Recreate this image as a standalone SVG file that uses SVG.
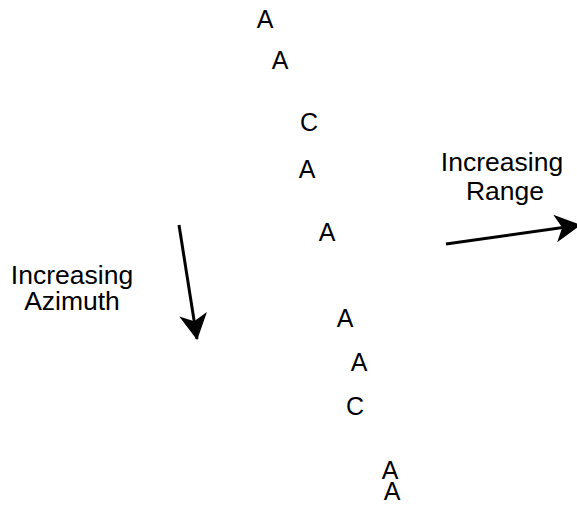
<svg xmlns="http://www.w3.org/2000/svg" width="577" height="506" viewBox="0 0 577 506">
  <style>
    text { font-family: "Liberation Sans", Arial, sans-serif; fill: #000; text-anchor: middle; }
    .pt { font-size: 25px; }
    .lbl { font-size: 26.5px; }
    .arrow { stroke: #000; stroke-width: 3; fill: none; marker-end: url(#head); }
  </style>
  <defs>
    <!-- concave filled arrowhead, tip at the line end -->
    <marker id="head" markerUnits="userSpaceOnUse" markerWidth="60" markerHeight="60" refX="30" refY="30" orient="auto" overflow="visible">
      <path d="M31,30 L5,16 L12,30 L5,44 Z" fill="#000"/>
    </marker>
  </defs>
  <rect width="577" height="506" fill="#fff"/>

  <!-- scatter points -->
  <g id="p1"><text class="pt" x="265" y="28">A</text></g>
  <g id="p2"><text class="pt" x="280" y="69">A</text></g>
  <g id="p3"><text class="pt" x="309" y="131">C</text></g>
  <g id="p4"><text class="pt" x="307" y="178">A</text></g>
  <g id="p5"><text class="pt" x="327" y="241">A</text></g>
  <g id="p6"><text class="pt" x="345" y="327">A</text></g>
  <g id="p7"><text class="pt" x="359" y="371">A</text></g>
  <g id="p8"><text class="pt" x="355" y="415">C</text></g>
  <g id="p9"><text class="pt" x="390" y="479">A</text></g>
  <g id="p10"><text class="pt" x="392" y="500">A</text></g>

  <!-- axis labels -->
  <g id="azimuth-label">
    <text class="lbl" x="72" y="284">Increasing</text>
    <text class="lbl" x="72" y="310">Azimuth</text>
  </g>
  <g id="range-label">
    <text class="lbl" x="502" y="171">Increasing</text>
    <text class="lbl" x="505" y="200">Range</text>
  </g>

  <!-- direction arrows -->
  <g id="connectors">
    <line class="arrow" x1="179" y1="225" x2="197" y2="339"/>
    <line class="arrow" x1="446" y1="244" x2="580" y2="225"/>
  </g>
</svg>
